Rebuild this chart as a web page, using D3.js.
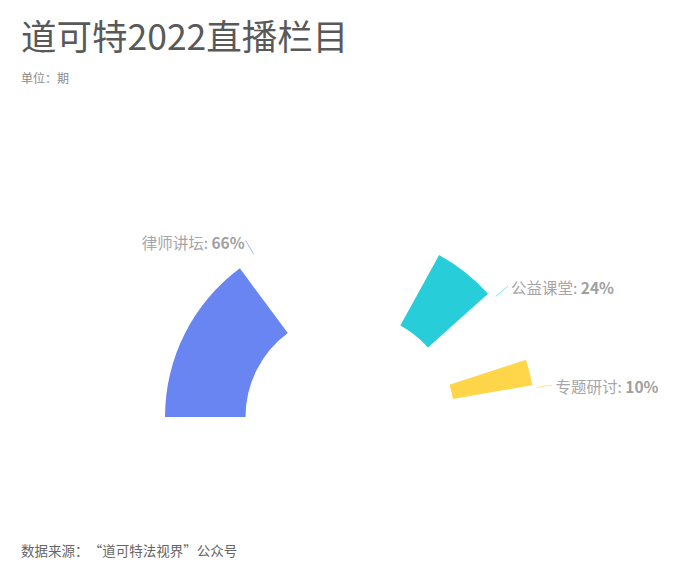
<!DOCTYPE html>
<html>
<head>
<meta charset="utf-8">
<script src="https://cdn.jsdelivr.net/npm/d3@7"></script>
<style>
  html, body { margin: 0; padding: 0; background: #fff; }
  svg { display: block; font-family: 'Noto Sans CJK SC', 'Noto Sans', sans-serif; }
</style>
</head>
<body>
<svg id="chart"></svg>
<script>
// 数据
const categories = ['律师讲坛', '公益课堂', '专题研讨']
const values = [66, 24, 10]
const colors = ['#6985F2', '#27CEDA', '#FFD54A']

const width = 700; const height = 576
const cx = 350; const cy = 417
const outerR = 185; const innerR = 104.5
// the reference is caught while the sectors are still growing
const progress = 0.45

const svg = d3.select('#chart').attr('width', width).attr('height', height)

svg.append('text').attr('x', 21).attr('y', 50)
  .attr('font-size', 35.5).attr('fill', '#595959')
  .text('道可特2022直播栏目')
svg.append('text').attr('x', 21).attr('y', 83)
  .attr('font-size', 12).attr('fill', '#8a8a8a')
  .text('单位：期')
const src = svg.append('text').attr('x', 21).attr('y', 556)
  .attr('font-size', 13.5).attr('fill', '#666')
src.append('tspan').text('数据来源：')
// full-width opening quote
src.append('tspan').attr('dx', 7).text('“道可特法视界”公众号')

const data = categories.map((c, i) => ({ name: c, value: values[i], color: colors[i] }))
const total = d3.sum(values)

const pie = d3.pie().sort(null).value(d => d.value)
  .startAngle(-Math.PI / 2).endAngle(Math.PI / 2)
const arcs = pie(data)

const arc = d3.arc().innerRadius(innerR).outerRadius(outerR)
const g = svg.append('g').attr('transform', `translate(${cx},${cy})`)

g.selectAll('path.slice').data(arcs).enter().append('path')
  .attr('class', 'slice')
  .attr('fill', d => d.data.color)
  .attr('d', d => arc({ startAngle: d.startAngle, endAngle: d.startAngle + (d.endAngle - d.startAngle) * progress }))

// label lines + labels
const pos = (a, r) => [Math.sin(a) * r, -Math.cos(a) * r]
arcs.forEach(d => {
  const mid = (d.startAngle + d.endAngle) / 2
  const p1 = pos(mid, outerR + 4)
  const p2 = pos(mid, outerR + 20)
  const right = Math.sin(mid) >= 0
  g.append('line')
    .attr('x1', p1[0]).attr('y1', p1[1]).attr('x2', p2[0]).attr('y2', p2[1])
    .attr('stroke', d.data.color).attr('stroke-opacity', 0.6).attr('stroke-width', 1)
  const t = g.append('text')
    .attr('x', p2[0] + (right ? 3 : -1)).attr('y', p2[1] + 1)
    .attr('dominant-baseline', 'central')
    .attr('text-anchor', right ? 'start' : 'end')
    .attr('font-size', 15.5).attr('fill', '#a6a6a6')
  t.append('tspan').text(d.data.name + ': ')
  t.append('tspan').attr('font-weight', 'bold').attr('fill', '#a0a0a0')
    .text(Math.round(d.data.value / total * 100) + '%')
})
</script>
</body>
</html>
